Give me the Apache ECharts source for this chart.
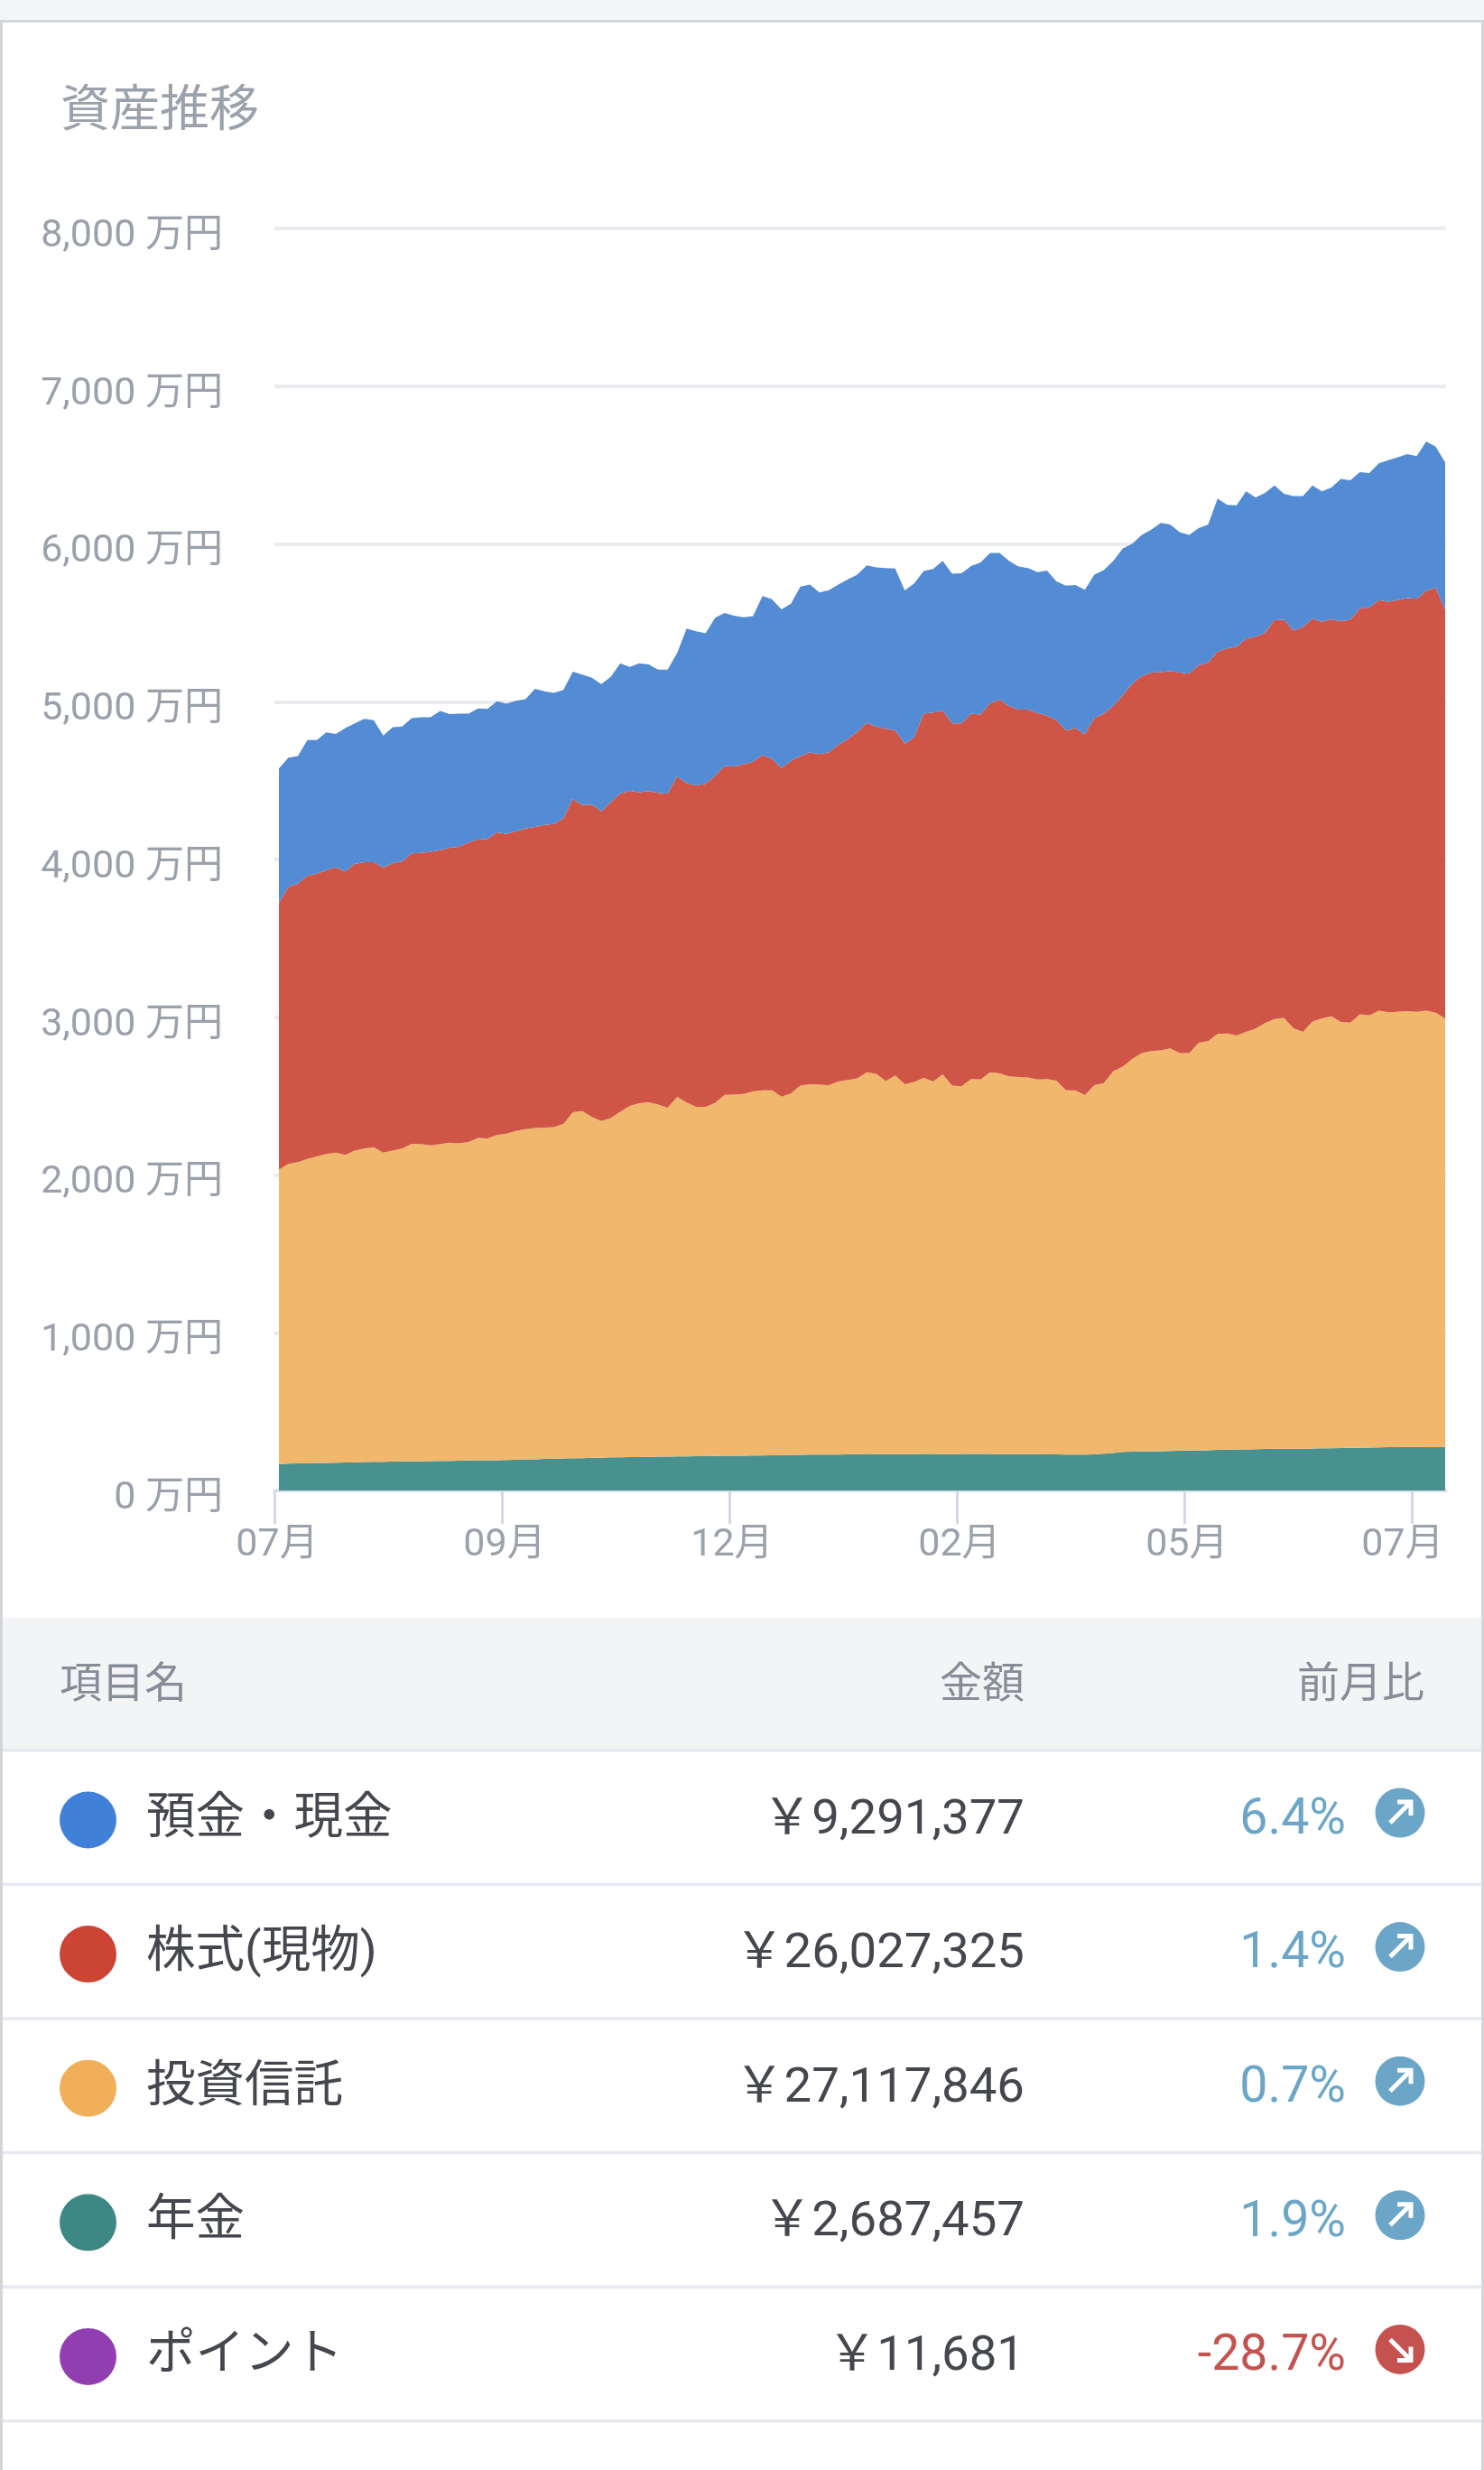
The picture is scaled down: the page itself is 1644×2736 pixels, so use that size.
<!DOCTYPE html>
<html lang="ja">
<head>
<meta charset="utf-8">
<title>資産推移</title>
<script src="https://cdn.jsdelivr.net/npm/echarts@6/dist/echarts.min.js"></script>
<style>html,body{margin:0;padding:0;background:#fff}#c{width:1644px;height:2736px}</style>
</head>
<body>
<div id="c"></div>
<script>
const tickLabels = ['07月','09月','12月','02月','05月','07月'];
const pension = [168,170,171,172,174,175,176,177,178,180,181,182,183,184,184,185,186,187,188,189,190,191,191,192,193,195,197,198,200,201,203,204,205,207,208,210,211,212,212,213,214,215,216,216,217,218,219,220,220,221,222,222,223,224,225,226,227,227,228,228,229,230,232,231,231,230,231,231,232,232,231,231,232,232,232,232,231,231,230,230,230,229,229,228,228,227,229,233,238,245,246,247,248,249,251,252,253,254,255,257,259,260,261,262,263,264,265,265,265,266,267,268,269,270,271,272,273,275,275,276,276,275,275,275];
const funds = [1867,1900,1910,1930,1943,1958,1966,1950,1977,1987,1995,1960,1972,1983,2013,2011,2002,2009,2017,2012,2019,2043,2041,2061,2069,2084,2094,2099,2100,2103,2120,2194,2200,2160,2134,2150,2189,2226,2243,2248,2233,2211,2279,2243,2215,2214,2238,2288,2290,2292,2307,2314,2313,2273,2291,2340,2348,2345,2341,2364,2373,2382,2419,2410,2364,2401,2344,2358,2383,2360,2407,2335,2330,2376,2373,2419,2413,2394,2391,2388,2375,2379,2369,2308,2308,2279,2340,2349,2420,2442,2490,2526,2538,2540,2551,2521,2520,2584,2593,2637,2638,2624,2646,2665,2700,2725,2731,2665,2642,2707,2726,2738,2701,2696,2748,2740,2769,2757,2760,2763,2759,2767,2754,2718];
const stocks = [1690,1756,1765,1793,1793,1798,1808,1797,1816,1816,1807,1807,1822,1820,1841,1846,1860,1863,1869,1879,1898,1892,1898,1919,1900,1900,1905,1909,1919,1921,1938,1985,1940,1980,1963,2004,2018,1997,1972,1972,1975,1990,2031,2024,2037,2047,2073,2083,2079,2089,2090,2125,2102,2082,2109,2089,2103,2096,2109,2135,2161,2197,2214,2201,2234,2188,2159,2184,2309,2339,2306,2296,2300,2316,2313,2339,2369,2348,2329,2332,2323,2303,2284,2283,2296,2287,2326,2342,2315,2355,2379,2388,2398,2398,2392,2411,2404,2392,2401,2424,2441,2464,2494,2483,2474,2527,2523,2520,2566,2552,2513,2516,2539,2553,2572,2586,2602,2602,2609,2618,2618,2661,2693,2588];
const cash = [851,819,809,862,847,875,846,908,891,908,899,837,862,855,857,859,853,882,847,844,817,831,824,831,825,827,820,876,847,831,814,807,826,804,807,793,825,785,816,803,781,787,783,980,978,954,1002,971,956,933,923,1009,1012,1006,996,1074,1064,1025,1029,1015,1012,996,999,1009,1018,1025,972,976,904,910,949,949,952,936,965,953,930,920,907,897,893,920,880,917,907,916,910,910,920,930,887,896,906,946,929,890,880,870,874,969,910,897,932,884,887,854,798,854,831,845,827,835,903,884,864,851,867,897,906,913,904,946,894,936];

const rowNames = ['預金・現金','株式(現物)','投資信託','年金','ポイント'];
const rowAmounts = ['\uFFE59,291,377','\uFFE526,027,325','\uFFE527,117,846','\uFFE52,687,457','\uFFE511,681'];
const rowChanges = ['6.4%','1.4%','0.7%','1.9%','-28.7%'];
const rowColors = ['#4180d8','#cc4434','#f1af5a','#3e8884','#913eb0'];
const headers = ['項目名','金額','前月比'];

const FONT = 'Roboto, "Noto Sans CJK JP", sans-serif';
const CJK = '"Noto Sans CJK JP", sans-serif';
const GREY = '#9aa1ab';
const UP = '#6ba6c8', DOWN = '#c4534f';
const ROW_H = 148.6, SEP0 = 1938.5;
const TICK_STEP = 33;

const sampleAxis = cash.map((_, i) => String(i));
const tickAxis = Array.from({length:171}, (_, i) => i % TICK_STEP === 0 ? tickLabels[i / TICK_STEP] : '');

const g = [];
const rect = (x, y, w, h, fill) => g.push({type:'rect', silent:true, z:-1, shape:{x, y, width:w, height:h}, style:{fill}});
const text = (x, y, t, opt) => g.push({type:'text', silent:true, x, y, style:Object.assign({text:t, fill:'#44474d', fontFamily:FONT, fontSize:54, verticalAlign:'middle'}, opt)});

rect(0, 0, 1644, 22, '#f4f5f7');
rect(0, 22, 1644, 3, '#d3d5da');
rect(0, 22, 3, 2714, '#d3d5da');
rect(1641, 22, 3, 2714, '#d3d5da');
rect(3, 1792, 1638, 145, '#f3f4f6');
for (let r = 0; r <= rowNames.length; r++) rect(3, SEP0 + r * ROW_H - 1.5, 1638, 3.5, '#e6e9ef');

text(66, 1862, headers[0], {fill:'#868d97', fontFamily:CJK, fontSize:47});
text(1135, 1862, headers[1], {fill:'#868d97', fontFamily:CJK, fontSize:47, align:'right'});
text(1578, 1862, headers[2], {fill:'#868d97', fontFamily:CJK, fontSize:47, align:'right'});

rowNames.forEach((name, r) => {
  const dy = r * ROW_H;
  const neg = rowChanges[r].startsWith('-');
  const col = neg ? DOWN : UP;
  g.push({type:'circle', silent:true, shape:{cx:97.5, cy:2016 + dy, r:31.5}, style:{fill:rowColors[r]}});
  text(162, 2016 + dy, name, {fontSize:54.5});
  text(1135, 2017 + dy, rowAmounts[r], {align:'right', fontSize:54.5});
  text(1491, 2017 + dy, rowChanges[r], {align:'right', fill:col, fontSize:55.5});
  g.push({type:'circle', silent:true, shape:{cx:1551, cy:2008 + dy, r:27.5}, style:{fill:col}});
  const s = neg ? 1 : -1;
  const cx = 1551, cy = 2008 + dy;
  g.push({type:'polyline', silent:true, shape:{points:[[cx-11, cy-s*11],[cx+11, cy+s*11]]}, style:{stroke:'#fff', lineWidth:5, fill:null}});
  g.push({type:'polyline', silent:true, shape:{points:[[cx-3, cy+s*12],[cx+12, cy+s*12],[cx+12, cy-s*3]]}, style:{stroke:'#fff', lineWidth:5, fill:null}});
});

const area = (name, data, color) => ({
  name, type:'line', stack:'total', data, xAxisIndex:0, yAxisIndex:0, symbol:'none', showSymbol:false,
  lineStyle:{width:0}, areaStyle:{color, opacity:1}, itemStyle:{color}, silent:true, animation:false, z:5
});

const chart = echarts.init(document.getElementById('c'), null, {width:1644, height:2736});
chart.setOption({
  animation:false,
  backgroundColor:'#ffffff',
  title:{text:'資産推移', left:62, top:86, textStyle:{color:GREY, fontSize:55, fontWeight:'normal', fontFamily:CJK}},
  grid:[
    {left:309, top:253, width:1292, height:1398},
    {left:304, top:253, width:1298, height:1398}
  ],
  xAxis:[
    {gridIndex:0, type:'category', data:sampleAxis, boundaryGap:false, show:false},
    {
      gridIndex:1, type:'category', data:tickAxis, boundaryGap:false, position:'bottom',
      axisLine:{lineStyle:{color:'#d8ddee', width:3}},
      axisTick:{show:true, length:37, interval:TICK_STEP - 1, lineStyle:{color:'#d4d9ea', width:3}},
      axisLabel:{
        show:true, interval:TICK_STEP - 1, margin:40, color:GREY, fontSize:43, fontFamily:FONT,
        formatter:(v, i) => i === 165 ? '{last|' + v + '}' : '{n|' + v + '}',
        rich:{
          n:{color:GREY, fontSize:43, fontFamily:FONT, padding:[0,0,0,6]},
          last:{color:GREY, fontSize:43, fontFamily:FONT, padding:[0,20,0,0]}
        }
      },
      splitLine:{show:false}
    }
  ],
  yAxis:[
    {gridIndex:0, type:'value', min:0, max:8000, interval:1000, show:false},
    {
      gridIndex:1, type:'value', min:0, max:8000, interval:1000,
      axisLine:{show:false}, axisTick:{show:false},
      axisLabel:{margin:57, color:GREY, fontSize:43, fontFamily:FONT,
        formatter:v => '{a|' + v.toLocaleString('en-US') + ' 万円}',
        rich:{a:{color:GREY, fontSize:43, fontFamily:FONT, padding:[18,0,0,0]}}},
      splitLine:{lineStyle:{color:'#e9ebee', width:4}}
    }
  ],
  series:[
    area('年金', pension, '#48918f'),
    area('投資信託', funds, '#f1b76d'),
    area('株式(現物)', stocks, '#cf5646'),
    area('預金・現金', cash, '#538bd5')
  ],
  graphic:{elements:g}
});
</script>
</body>
</html>
